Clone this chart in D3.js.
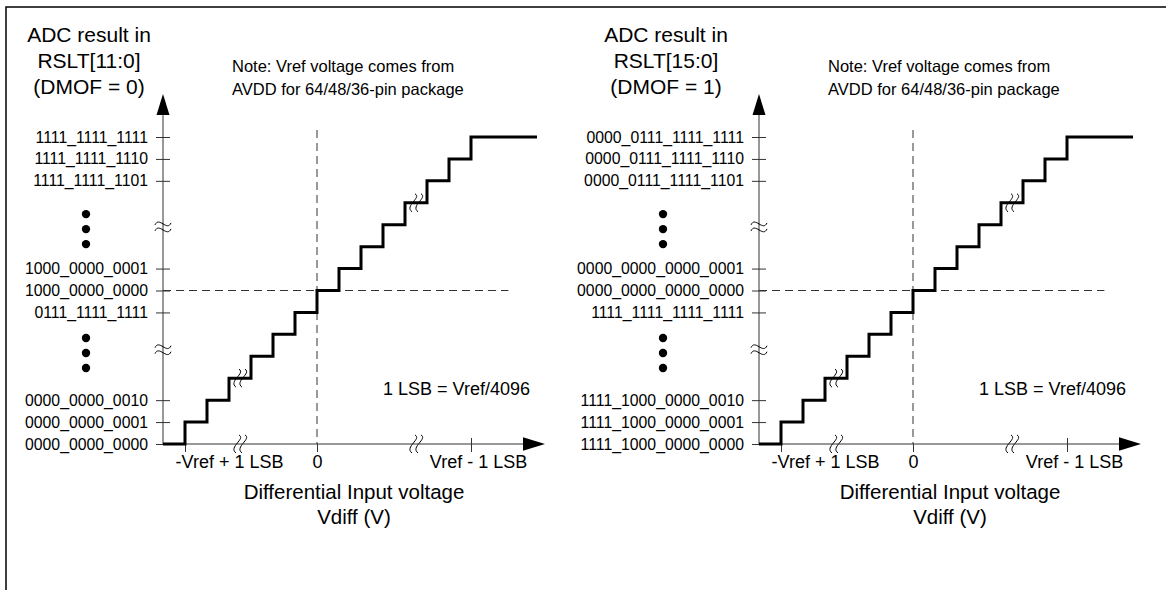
<!DOCTYPE html>
<html>
  <head>
    <title>ADC result vs differential input</title>
    <script src="https://d3js.org/d3.v7.min.js"></script>
  </head>
  <style>
    body {
      margin: 0;
      background-color: #fff;
      font-family: 'Liberation Sans', Arial, Helvetica, sans-serif;
    }
  </style>
  <body>
    <svg></svg>

    <script>
      // output codes on the y axis (level index counted in LSB steps, compressed by the breaks)
      var codeLevels = [0, 1, 2, 6, 7, 8, 12, 13, 14];
      var leftCodes = ["0000_0000_0000", "0000_0000_0001", "0000_0000_0010",
                       "0111_1111_1111", "1000_0000_0000", "1000_0000_0001",
                       "1111_1111_1101", "1111_1111_1110", "1111_1111_1111"];
      var rightCodes = ["1111_1000_0000_0000", "1111_1000_0000_0001", "1111_1000_0000_0010",
                        "1111_1111_1111_1111", "0000_0000_0000_0000", "0000_0000_0000_0001",
                        "0000_0111_1111_1101", "0000_0111_1111_1110", "0000_0111_1111_1111"];

      // transfer staircase: each step starts at x and holds the level
      var stepStarts = [-7, -6, -5, -4, -3, -2, -1, 0, 1, 2, 3, 4, 5, 6, 7];
      var stepLevels = [0, 1, 2, 3, 4, 5, 6, 7, 8, 9, 10, 11, 12, 13, 14];
      var stairEnd = 10;

      var xTickValues = [-6, 0, 7];
      var xTickLabels = ["-Vref + 1 LSB", "0", "Vref - 1 LSB"];

      var xBreaks = [-3.5, 4.5];       // on the x axis
      var stairBreakLevels = [3, 11];  // same x as xBreaks, on the staircase
      var yBreaks = [4.3, 9.9];
      var dotLevels = [4.15, 9.8];
      var midLevel = 7;

      var panels = [
        { axisX: 163, codes: leftCodes, dotsX: 86, titleX: 89,
          title: ["ADC result in", "RSLT[11:0]", "(DMOF = 0)"] },
        { axisX: 759, codes: rightCodes, dotsX: 663, titleX: 666,
          title: ["ADC result in", "RSLT[15:0]", "(DMOF = 1)"] }
      ];

      var width = 1166;
      var height = 590;
      var unit = 22;
      var font = "'Liberation Sans', Arial, Helvetica, sans-serif";

      var svg = d3.select('svg')
        .attr('width', width)
        .attr('height', height);

      // frame
      svg.append('path')
        .attr('d', 'M6,' + height + 'V7H' + width)
        .style('fill', 'none')
        .style('stroke', '#000')
        .style('stroke-width', 1.5);

      var y = d3.scaleLinear().domain([0, 14]).range([444, 137]);

      function breakPath(cx, cy, vertical) {
        var p = d3.path();
        [-3, 3].forEach(function (o) {
          if (vertical) {
            p.moveTo(cx + o + 2, cy - 9);
            p.bezierCurveTo(cx + o + 9, cy - 5, cx + o - 9, cy + 3, cx + o - 1, cy + 9);
          } else {
            p.moveTo(cx - 8, cy + o + 1);
            p.bezierCurveTo(cx - 4, cy + o - 8, cx + 4, cy + o + 8, cx + 8, cy + o - 1);
          }
        });
        return p.toString();
      }

      panels.forEach(function (panel) {
        var x = d3.scaleLinear()
          .domain([-7, 10])
          .range([panel.axisX, panel.axisX + 17 * unit]);

        var g = svg.append('g');

        // titles
        g.append('text')
          .attr('text-anchor', 'middle')
          .style('font-family', font)
          .style('font-size', '21px')
          .selectAll('tspan')
          .data(panel.title)
          .enter().append('tspan')
          .attr('x', panel.titleX)
          .attr('y', function (d, i) { return 42 + i * 26; })
          .text(function (d) { return d; });

        g.append('text')
          .style('font-family', font)
          .style('font-size', '16.5px')
          .selectAll('tspan')
          .data(["Note: Vref voltage comes from", "AVDD for 64/48/36-pin package"])
          .enter().append('tspan')
          .attr('x', panel.axisX + 69)
          .attr('y', function (d, i) { return 72 + i * 23; })
          .text(function (d) { return d; });

        // dashed guides
        g.append('line')
          .attr('x1', panel.axisX).attr('x2', x(8.7))
          .attr('y1', y(midLevel)).attr('y2', y(midLevel))
          .style('stroke', '#333').style('stroke-dasharray', '8,5');
        g.append('line')
          .attr('x1', x(0)).attr('x2', x(0))
          .attr('y1', 130).attr('y2', y(0))
          .style('stroke', '#333').style('stroke-dasharray', '8,5');

        // y axis
        var yAxis = g.append('g')
          .attr('transform', 'translate(' + panel.axisX + ',0)')
          .call(d3.axisLeft(y)
            .tickValues(codeLevels)
            .tickFormat(function (d, i) { return panel.codes[i]; })
            .tickSize(7)
            .tickPadding(8));
        yAxis.select('.domain').remove();
        yAxis.selectAll('.tick line').attr('x1', 7).style('stroke', '#333');
        yAxis.selectAll('.tick text')
          .style('font-family', font)
          .style('font-size', '15.8px')
          .style('fill', '#000');

        g.append('line')
          .attr('x1', panel.axisX).attr('x2', panel.axisX)
          .attr('y1', y(0)).attr('y2', 112)
          .style('stroke', '#333');
        g.append('path')
          .attr('d', 'M' + panel.axisX + ',94L' + (panel.axisX - 6.5) + ',115L' + (panel.axisX + 6.5) + ',115Z')
          .style('fill', '#000');

        // x axis
        var xAxis = g.append('g')
          .attr('transform', 'translate(0,' + y(0) + ')')
          .call(d3.axisBottom(x)
            .tickValues(xTickValues)
            .tickFormat(function (d, i) { return xTickLabels[i]; })
            .tickSize(8)
            .tickPadding(3));
        xAxis.select('.domain').remove();
        xAxis.selectAll('.tick line')
          .attr('y1', function (d, i) { return i === 2 ? -6 : 0; })
          .style('stroke', '#333');
        xAxis.selectAll('.tick text')
          .attr('dx', function (d, i) { return [44, 0, 7][i]; })
          .style('font-family', font)
          .style('font-size', '18px')
          .style('fill', '#000');

        g.append('line')
          .attr('x1', panel.axisX).attr('x2', x(10.1))
          .attr('y1', y(0)).attr('y2', y(0))
          .style('stroke', '#333');
        g.append('path')
          .attr('d', 'M' + (panel.axisX + 382) + ',' + y(0) + 'L' + (panel.axisX + 360) + ',' + (y(0) - 6.7) +
                'L' + (panel.axisX + 360) + ',' + (y(0) + 6.7) + 'Z')
          .style('fill', '#000');

        // staircase
        var pts = stepStarts.map(function (s, i) { return [s, stepLevels[i]]; });
        pts.push([stairEnd, stepLevels[stepLevels.length - 1]]);
        g.append('path')
          .datum(pts)
          .attr('d', d3.line()
            .x(function (d) { return x(d[0]); })
            .y(function (d) { return y(d[1]); })
            .curve(d3.curveStepAfter))
          .style('fill', 'none')
          .style('stroke', '#000')
          .style('stroke-width', 3);

        // break marks
        xBreaks.forEach(function (b, i) {
          g.append('path').attr('d', breakPath(x(b), y(0), true))
            .style('fill', 'none').style('stroke', '#000').style('stroke-width', 1);
          g.append('path').attr('d', breakPath(x(b), y(stairBreakLevels[i]), true))
            .style('fill', 'none').style('stroke', '#000').style('stroke-width', 1);
        });
        yBreaks.forEach(function (b) {
          g.append('path').attr('d', breakPath(panel.axisX, y(b), false))
            .style('fill', 'none').style('stroke', '#000').style('stroke-width', 1);
        });

        // ellipsis dots
        dotLevels.forEach(function (lv) {
          g.selectAll(null)
            .data([-15, 0, 15])
            .enter().append('circle')
            .attr('cx', panel.dotsX)
            .attr('cy', function (d) { return y(lv) + d; })
            .attr('r', 4.2)
            .style('fill', '#000');
        });

        g.append('text')
          .attr('x', panel.axisX + 220)
          .attr('y', 395)
          .style('font-family', font)
          .style('font-size', '18px')
          .text("1 LSB = Vref/4096");

        g.append('text')
          .attr('text-anchor', 'middle')
          .style('font-family', font)
          .style('font-size', '20.5px')
          .selectAll('tspan')
          .data(["Differential Input voltage", "Vdiff (V)"])
          .enter().append('tspan')
          .attr('x', x(0) + 37)
          .attr('y', function (d, i) { return 499 + i * 25; })
          .text(function (d) { return d; });
      });
    </script>
  </body>
</html>
